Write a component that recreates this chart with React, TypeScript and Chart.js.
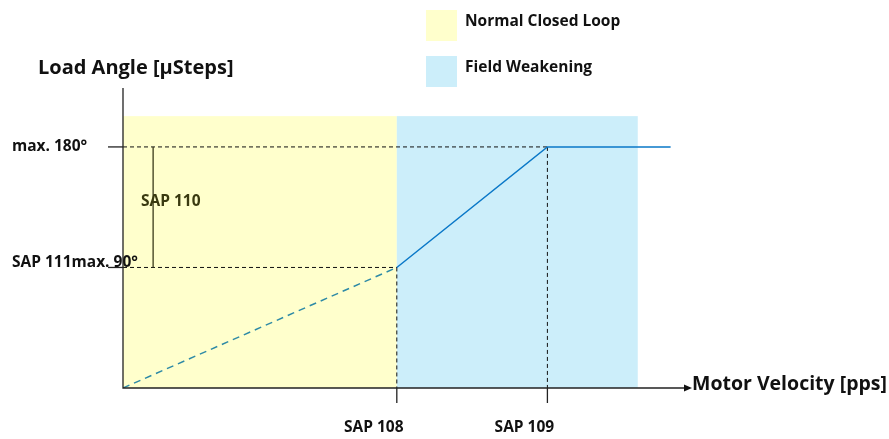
import React, { useEffect, useRef } from "react";
import { Chart, registerables } from "chart.js";

Chart.register(...registerables);

// Data (x: motor velocity in arbitrary units, y: load angle in degrees)
const rampX = [0, 100];
const rampY = [0, 90];
const weakX = [100, 155, 200];
const weakY = [90, 180, 180];
const xTickValues = [100, 155];
const xTickLabels = ["SAP 108", "SAP 109"];
const yTickValues = [90, 180];
const yTickLabels = ["SAP 111max. 90°", "max. 180°"];
const sap110X = 11;
const sap110Label = "SAP 110";
const regionStarts = [0, 100];
const regionEnds = [100, 188];
const regionTop = 203;
const legendLabels = ["Normal Closed Loop", "Field Weakening"];
const legendColors = ["#ffffcc", "#cceefa"];
const yAxisTitle = "Load Angle [µSteps]";
const xAxisTitle = "Motor Velocity [pps]";

const FONT = "'Open Sans', sans-serif";

const drawPlugin = {
  id: "drawPlugin",
  beforeDatasetsDraw(chart: any) {
    const ctx = chart.ctx;
    const xs = chart.scales.x;
    const ys = chart.scales.y;
    ctx.save();
    // regions
    for (let i = 0; i < regionStarts.length; i++) {
      const x0 = xs.getPixelForValue(regionStarts[i]);
      const x1 = xs.getPixelForValue(regionEnds[i]);
      const y0 = ys.getPixelForValue(regionTop);
      const y1 = ys.getPixelForValue(0);
      ctx.fillStyle = legendColors[i];
      ctx.fillRect(x0, y0, x1 - x0, y1 - y0);
    }
    // dashed reference lines
    ctx.strokeStyle = "#111";
    ctx.lineWidth = 1;
    ctx.setLineDash([4, 3]);
    const ox = xs.getPixelForValue(0);
    const oy = ys.getPixelForValue(0);
    for (let i = 0; i < xTickValues.length; i++) {
      const px = xs.getPixelForValue(xTickValues[i]);
      const py = ys.getPixelForValue(yTickValues[i]);
      ctx.beginPath();
      ctx.moveTo(ox, py);
      ctx.lineTo(px, py);
      ctx.moveTo(px, py);
      ctx.lineTo(px, oy);
      ctx.stroke();
    }
    ctx.setLineDash([]);
    // SAP 110 bracket line
    ctx.strokeStyle = "#3a3a1a";
    ctx.lineWidth = 1.3;
    const bx = xs.getPixelForValue(sap110X);
    ctx.beginPath();
    ctx.moveTo(bx, ys.getPixelForValue(yTickValues[1]));
    ctx.lineTo(bx, ys.getPixelForValue(yTickValues[0]));
    ctx.stroke();
    ctx.restore();
  },
  afterDatasetsDraw(chart: any) {
    const ctx = chart.ctx;
    const xs = chart.scales.x;
    const ys = chart.scales.y;
    const ox = xs.getPixelForValue(0);
    const oy = ys.getPixelForValue(0);
    ctx.save();
    // axes
    ctx.strokeStyle = "#222";
    ctx.lineWidth = 1.3;
    ctx.beginPath();
    ctx.moveTo(ox, ys.getPixelForValue(ys.max));
    ctx.lineTo(ox, oy);
    const xEnd = xs.getPixelForValue(xs.max) - 8;
    ctx.lineTo(xEnd, oy);
    ctx.stroke();
    ctx.fillStyle = "#111";
    ctx.beginPath();
    ctx.moveTo(xEnd + 2, oy);
    ctx.lineTo(xEnd - 6, oy - 3.5);
    ctx.lineTo(xEnd - 6, oy + 3.5);
    ctx.closePath();
    ctx.fill();
    // ticks
    ctx.lineWidth = 1.3;
    ctx.strokeStyle = "#222";
    for (const v of xTickValues) {
      const px = xs.getPixelForValue(v);
      ctx.beginPath();
      ctx.moveTo(px, oy);
      ctx.lineTo(px, oy + 15);
      ctx.stroke();
    }
    for (const v of yTickValues) {
      const py = ys.getPixelForValue(v);
      ctx.beginPath();
      ctx.moveTo(ox - 15, py);
      ctx.lineTo(ox, py);
      ctx.stroke();
    }
    // tick labels
    ctx.fillStyle = "#111";
    ctx.font = `bold 15.5px ${FONT}`;
    ctx.textAlign = "center";
    ctx.textBaseline = "middle";
    xTickValues.forEach((v, i) => {
      ctx.fillText(xTickLabels[i], xs.getPixelForValue(v) - 23, oy + 40);
    });
    ctx.textAlign = "left";
    yTickValues.forEach((v, i) => {
      const py = ys.getPixelForValue(v) - (i === 0 ? 5 : 0);
      ctx.fillText(yTickLabels[i], 12, py);
    });
    // SAP 110 label
    ctx.fillStyle = "#3a3a10";
    ctx.fillText(sap110Label, 141, ys.getPixelForValue(139));
    // axis titles
    ctx.fillStyle = "#111";
    ctx.font = `bold 20px ${FONT}`;
    ctx.fillText(yAxisTitle, 38, 68);
    ctx.font = `bold 19.5px ${FONT}`;
    ctx.fillText(xAxisTitle, xEnd + 2, oy - 4);
    // legend
    ctx.font = `bold 15.5px ${FONT}`;
    legendLabels.forEach((lab, i) => {
      const y = 10 + i * 46;
      ctx.fillStyle = legendColors[i];
      ctx.fillRect(426, y, 31, 31);
      ctx.fillStyle = "#111";
      ctx.fillText(lab, 465, y + 12);
    });
    ctx.restore();
  },
};

export default function App() {
  const ref = useRef<HTMLCanvasElement>(null);
  useEffect(() => {
    if (!ref.current) return;
    const chart = new Chart(ref.current, {
      type: "line",
      data: {
        datasets: [
          {
            data: rampX.map((x, i) => ({ x, y: rampY[i] })),
            borderColor: "#2e8aa6",
            borderWidth: 1.5,
            borderDash: [7, 5],
            pointRadius: 0,
            fill: false,
          },
          {
            data: weakX.map((x, i) => ({ x, y: weakY[i] })),
            borderColor: "#0a78c8",
            borderWidth: 1.5,
            pointRadius: 0,
            fill: false,
          },
        ],
      },
      options: {
        animation: false,
        responsive: false,
        maintainAspectRatio: false,
        layout: { padding: { left: 123, right: 191, top: 88, bottom: 51 } },
        plugins: { legend: { display: false }, tooltip: { enabled: false } },
        scales: {
          x: { type: "linear", min: 0, max: 210, display: false },
          y: { type: "linear", min: 0, max: 224, display: false },
        },
      },
      plugins: [drawPlugin],
    });
    return () => chart.destroy();
  }, []);
  return (
    <div style={{ position: "fixed", left: 0, top: 0, width: 889, height: 439, background: "#fff" }}>
      <canvas ref={ref} width={889} height={439} style={{ width: 889, height: 439 }} />
    </div>
  );
}
